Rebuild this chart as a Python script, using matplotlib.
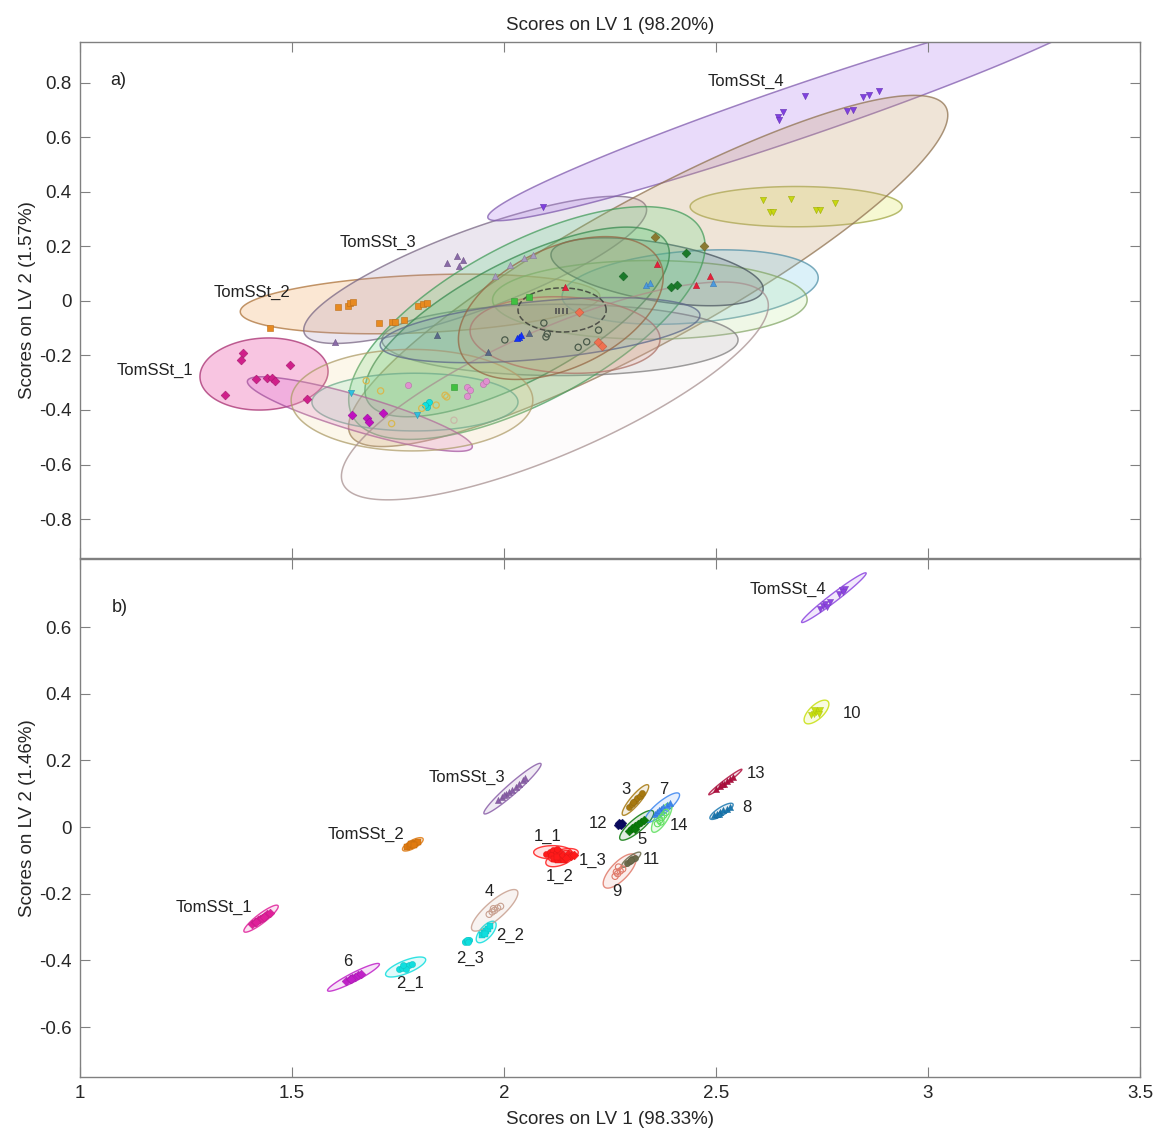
import numpy as np
import matplotlib
matplotlib.use('Agg')
import matplotlib.pyplot as plt
from matplotlib.patches import Polygon
from matplotlib.colors import to_rgba, to_rgb
from matplotlib.ticker import FixedLocator, FuncFormatter

plt.rcParams['font.family'] = ['Liberation Sans', 'DejaVu Sans']

# ===================== PANEL b (bottom) =====================
b_names = ['TomSSt_1', 'TomSSt_2', 'TomSSt_3', 'TomSSt_4', '1_1', '1_2', '1_3',
           '2_1', '2_2', '2_3', '3', '4', '5', '6', '7', '8', '9', '10', '11', '12', '13', '14']
b_colors = ['#e0209a', '#e07a10', '#8a5fa8', '#8c45e0', '#ff1a1a', '#ff1a1a', '#ff1a1a',
            '#10dede', '#10dede', '#10dede', '#a6780f', '#c8a090', '#0a7a0a', '#c020c8',
            '#3a85f0', '#1a78b0', '#e07a6a', '#c8e010', '#6a6a4a', '#0a0a60', '#b0103f', '#60e060']
b_markers = ['D', 's', '^', 'v', 'o', 's', 'D', 'o', 's', 'o', 'o', 'o', 'D', 'D',
             '^', '^', 'o', 'v', 'o', 'D', '^', 'o']
b_open = ['4', '9', '14']

# ellipse: centre, end of major axis, minor/major ratio
b_ell_cx = [1.427, 1.785, 2.020, 2.778, 2.115, 2.132, 2.140, 1.768, 1.958, 1.914, 2.310, 1.978,
            2.313, 1.645, 2.373, 2.513, 2.273, 2.737, 2.300, 2.274, 2.522, 2.372]
b_ell_cy = [-0.275, -0.052, 0.115, 0.688, -0.076, -0.095, -0.085, -0.420, -0.315, -0.342, 0.081,
            -0.250, 0.005, -0.451, 0.058, 0.047, -0.132, 0.345, -0.098, 0.009, 0.135, 0.028]
b_ell_ex = [1.467, 1.809, 2.087, 2.854, 2.160, 2.165, 2.175, 1.815, 1.979, 1.925, 2.340, 2.031,
            2.352, 1.706, 2.413, 2.540, 2.309, 2.764, 2.322, 2.282, 2.561, 2.393]
b_ell_ey = [-0.236, -0.035, 0.190, 0.762, -0.076, -0.080, -0.075, -0.396, -0.285, -0.338, 0.126,
            -0.191, 0.047, -0.411, 0.100, 0.069, -0.084, 0.377, -0.077, 0.015, 0.173, 0.071]
b_ell_r = [0.22, 0.35, 0.14, 0.10, 0.35, 0.45, 0.40, 0.30, 0.45, 0.60, 0.25, 0.30,
           0.30, 0.15, 0.28, 0.30, 0.40, 0.45, 0.30, 0.70, 0.10, 0.35]

b_pts_TomSSt_1 = ([1.405, 1.412, 1.420, 1.425, 1.430, 1.436, 1.442, 1.448, 1.416, 1.433],
                  [-0.292, -0.285, -0.280, -0.276, -0.272, -0.266, -0.262, -0.258, -0.284, -0.270])
b_pts_TomSSt_2 = ([1.772, 1.778, 1.784, 1.790, 1.796, 1.781, 1.788],
                  [-0.060, -0.056, -0.052, -0.048, -0.044, -0.050, -0.055])
b_pts_TomSSt_3 = ([1.985, 1.995, 2.005, 2.012, 2.020, 2.028, 2.035, 2.045, 2.050, 2.000],
                  [0.080, 0.090, 0.098, 0.105, 0.112, 0.120, 0.130, 0.140, 0.148, 0.095])
b_pts_TomSSt_4 = ([2.745, 2.752, 2.758, 2.762, 2.790, 2.798, 2.805, 2.800, 2.770],
                  [0.655, 0.662, 0.668, 0.660, 0.700, 0.710, 0.715, 0.705, 0.675])
b_pts_1_1 = ([2.100, 2.108, 2.115, 2.122, 2.130, 2.112, 2.125],
             [-0.080, -0.074, -0.070, -0.078, -0.072, -0.085, -0.066])
b_pts_1_2 = ([2.118, 2.128, 2.135, 2.142, 2.125], [-0.095, -0.100, -0.092, -0.098, -0.090])
b_pts_1_3 = ([2.140, 2.150, 2.158, 2.165, 2.146], [-0.085, -0.082, -0.088, -0.083, -0.092])
b_pts_2_1 = ([1.752, 1.760, 1.768, 1.775, 1.782, 1.770, 1.762],
             [-0.425, -0.422, -0.418, -0.415, -0.412, -0.425, -0.415])
b_pts_2_2 = ([1.948, 1.953, 1.958, 1.963, 1.968, 1.955], [-0.325, -0.318, -0.312, -0.305, -0.298, -0.322])
b_pts_2_3 = ([1.908, 1.913, 1.918, 1.912, 1.916], [-0.345, -0.342, -0.340, -0.338, -0.346])
b_pts_3 = ([2.295, 2.302, 2.308, 2.314, 2.320, 2.326, 2.305], [0.060, 0.070, 0.078, 0.086, 0.094, 0.102, 0.075])
b_pts_4 = ([1.965, 1.972, 1.978, 1.985, 1.992, 1.975], [-0.262, -0.255, -0.250, -0.243, -0.238, -0.245])
b_pts_5 = ([2.295, 2.302, 2.310, 2.316, 2.322, 2.330, 2.308], [-0.012, -0.004, 0.002, 0.008, 0.014, 0.020, -0.006])
b_pts_6 = ([1.628, 1.636, 1.642, 1.648, 1.655, 1.662, 1.640], [-0.462, -0.456, -0.452, -0.449, -0.445, -0.440, -0.457])
b_pts_7 = ([2.355, 2.362, 2.370, 2.376, 2.384, 2.392, 2.365], [0.040, 0.046, 0.053, 0.060, 0.066, 0.072, 0.050])
b_pts_8 = ([2.495, 2.503, 2.510, 2.517, 2.525, 2.532, 2.507], [0.035, 0.040, 0.045, 0.050, 0.055, 0.060, 0.038])
b_pts_9 = ([2.262, 2.268, 2.274, 2.280, 2.270, 2.265], [-0.148, -0.140, -0.132, -0.126, -0.120, -0.135])
b_pts_10 = ([2.725, 2.730, 2.735, 2.740, 2.745, 2.732, 2.742], [0.335, 0.340, 0.345, 0.348, 0.352, 0.350, 0.340])
b_pts_11 = ([2.290, 2.296, 2.302, 2.308, 2.300], [-0.108, -0.102, -0.097, -0.092, -0.100])
b_pts_12 = ([2.270, 2.274, 2.278, 2.272, 2.277], [0.005, 0.009, 0.012, 0.012, 0.005])
b_pts_13 = ([2.500, 2.510, 2.518, 2.525, 2.532, 2.540, 2.514], [0.115, 0.124, 0.130, 0.137, 0.144, 0.150, 0.128])
b_pts_14 = ([2.362, 2.367, 2.372, 2.377, 2.382, 2.370], [0.010, 0.020, 0.028, 0.036, 0.044, 0.015])

b_points = [b_pts_TomSSt_1, b_pts_TomSSt_2, b_pts_TomSSt_3, b_pts_TomSSt_4, b_pts_1_1, b_pts_1_2,
            b_pts_1_3, b_pts_2_1, b_pts_2_2, b_pts_2_3, b_pts_3, b_pts_4, b_pts_5, b_pts_6, b_pts_7,
            b_pts_8, b_pts_9, b_pts_10, b_pts_11, b_pts_12, b_pts_13, b_pts_14]

b_label_text = ['TomSSt_1', 'TomSSt_2', 'TomSSt_3', 'TomSSt_4', '1_1', '1_2', '1_3', '2_1', '2_2',
                '2_3', '3', '4', '5', '6', '7', '8', '9', '10', '11', '12', '13', '14']
b_label_x = [1.406, 1.764, 2.002, 2.759, 2.104, 2.132, 2.208, 1.778, 2.014, 1.920, 2.288, 1.965,
             2.325, 1.632, 2.377, 2.561, 2.267, 2.800, 2.328, 2.243, 2.572, 2.392]
b_label_y = [-0.240, -0.022, 0.150, 0.712, -0.027, -0.147, -0.099, -0.468, -0.324, -0.393, 0.111,
             -0.195, -0.039, -0.405, 0.111, 0.060, -0.192, 0.342, -0.096, 0.009, 0.162, 0.006]
b_label_ha = ['right', 'right', 'right', 'right', 'center', 'center', 'center', 'center', 'center',
              'center', 'center', 'center', 'center', 'center', 'center', 'left', 'center', 'left',
              'left', 'right', 'left', 'left']

# ===================== PANEL a (top) =====================
a_ell_color = ['#e8409c', '#f0a050', '#a88fb8', '#b27ef0', '#e0e860', '#c8a070', '#70c8e8',
               '#b8e890', '#a8a8a8', '#607080', '#60d880', '#50c070', '#70e0c0', '#e070d8',
               '#f0d890', '#e8c8c8', '#f0a090', '#8090c0', '#d09060', '#404040']
a_ell_cx = [1.434, 1.802, 1.932, 2.696, 2.689, 2.340, 2.439, 2.344, 2.132, 2.361, 2.054, 2.031,
            1.790, 1.660, 1.783, 2.120, 2.144, 2.085, 2.134, 2.137]
a_ell_cy = [-0.268, -0.011, 0.114, 0.695, 0.346, 0.110, 0.051, 0.004, -0.143, 0.107, -0.081, -0.077,
            -0.371, -0.415, -0.364, -0.330, -0.125, -0.107, -0.026, -0.033]
a_ell_ex = [1.585, 2.226, 2.335, 1.962, 2.939, 3.042, 2.741, 2.715, 2.552, 2.611, 2.465, 2.384,
            2.033, 1.925, 2.068, 2.620, 2.368, 2.462, 2.368, 2.241]
a_ell_ey = [-0.254, 0.018, 0.346, 0.305, 0.346, 0.712, 0.088, 0.004, -0.143, 0.040, 0.261, 0.213,
            -0.371, -0.537, -0.364, 0.010, -0.143, -0.051, 0.143, -0.033]
a_ell_r = [0.56, 0.16, 0.22, 0.08, 0.19, 0.21, 0.28, 0.25, 0.20, 0.27, 0.40, 0.35,
           0.28, 0.15, 0.42, 0.27, 0.40, 0.18, 0.55, 0.50]
a_ell_alpha = [0.30, 0.25, 0.22, 0.28, 0.28, 0.28, 0.25, 0.20, 0.20, 0.22, 0.24, 0.24,
               0.22, 0.25, 0.18, 0.06, 0.20, 0.18, 0.16, 0.03]

a_pts_TomSSt_1 = ([1.384, 1.380, 1.495, 1.414, 1.440, 1.454, 1.460, 1.342, 1.535],
                  [-0.190, -0.217, -0.235, -0.288, -0.284, -0.281, -0.293, -0.346, -0.358])
a_pts_TomSSt_2 = ([1.448, 1.609, 1.633, 1.637, 1.645, 1.706, 1.735, 1.743, 1.763, 1.798, 1.810, 1.819],
                  [-0.100, -0.021, -0.018, -0.008, -0.003, -0.082, -0.076, -0.078, -0.070, -0.018, -0.011, -0.006])
a_pts_TomSSt_3 = ([1.866, 1.888, 1.904, 1.895, 1.601], [0.139, 0.165, 0.151, 0.129, -0.150])
a_pts_TomSSt_3b = ([1.979, 2.014, 2.046, 2.068], [0.092, 0.132, 0.157, 0.169])
a_pts_TomSSt_4 = ([2.710, 2.657, 2.647, 2.649, 2.808, 2.824, 2.847, 2.862, 2.885, 2.093],
                  [0.751, 0.692, 0.675, 0.663, 0.696, 0.702, 0.747, 0.754, 0.769, 0.344])
a_pts_10 = ([2.612, 2.676, 2.627, 2.634, 2.736, 2.745, 2.781], [0.369, 0.374, 0.328, 0.328, 0.335, 0.335, 0.359])
a_pts_slate = ([1.841, 1.963, 2.060], [-0.125, -0.186, -0.119])
a_pts_blue = ([2.036, 2.039, 2.030], [-0.131, -0.125, -0.136])
a_pts_red = ([2.360, 2.454, 2.486, 2.144], [0.136, 0.059, 0.092, 0.053])
a_pts_dkgreen = ([2.281, 2.395, 2.407, 2.429], [0.092, 0.053, 0.059, 0.175])
a_pts_olive = ([2.356, 2.472], [0.234, 0.202])
a_pts_skyblue = ([2.336, 2.344, 2.494], [0.059, 0.067, 0.065])
a_pts_cyan = ([1.818, 1.822, 1.814], [-0.389, -0.370, -0.382])
a_pts_cyantri = ([1.794, 1.638], [-0.419, -0.337])
a_pts_magenta = ([1.676, 1.682, 1.714, 1.642], [-0.428, -0.444, -0.411, -0.419])
a_pts_lilac = ([1.774, 1.912, 1.920, 1.913, 1.951, 1.958], [-0.309, -0.317, -0.325, -0.349, -0.303, -0.293])
a_pts_tanopen = ([1.675, 1.709, 1.861, 1.865, 1.840, 1.806, 1.735], [-0.293, -0.330, -0.346, -0.352, -0.382, -0.394, -0.450])
a_pts_green = ([1.882, 2.024, 2.060], [-0.317, 0.001, 0.016])
a_pts_grayopen = ([2.002, 2.102, 2.175, 2.195, 2.223, 2.094, 2.099], [-0.143, -0.121, -0.170, -0.150, -0.107, -0.081, -0.132])
a_pts_salmon = ([2.177, 2.222, 2.230], [-0.040, -0.151, -0.165])
a_pts_black = ([2.122, 2.130, 2.140, 2.148], [-0.037, -0.037, -0.037, -0.037])
a_pts_lightopen = ([1.882], [-0.4375])

a_points = [a_pts_TomSSt_1, a_pts_TomSSt_2, a_pts_TomSSt_3, a_pts_TomSSt_3b, a_pts_TomSSt_4, a_pts_10,
            a_pts_slate, a_pts_blue, a_pts_red, a_pts_dkgreen, a_pts_olive, a_pts_skyblue, a_pts_cyan,
            a_pts_cyantri, a_pts_magenta, a_pts_lilac, a_pts_tanopen, a_pts_green, a_pts_grayopen,
            a_pts_salmon, a_pts_black, a_pts_lightopen]
a_pt_colors = ['#d0208a', '#e88a20', '#8a6aa8', '#a89cc0', '#8040e0', '#c8d810', '#5a6a8a', '#1030ff',
               '#e8203a', '#1a7a2a', '#8a7a30', '#4a9ae0', '#10e0e0', '#30c0e0', '#c010c0', '#e090d0',
               '#d8b850', '#40c040', '#4a5a4a', '#f07050', '#505050', '#c8b8a8']
a_pt_markers = ['D', 's', '^', '^', 'v', 'v', '^', '^', '^', 'D', 'D', '^', 'o', 'v', 'D', 'o',
                'o', 's', 'o', 'D', '|', 'o']
a_pt_open = [False, False, False, False, False, False, False, False, False, False, False, False,
             False, False, False, False, True, False, True, False, False, True]

a_label_text = ['TomSSt_1', 'TomSSt_2', 'TomSSt_3', 'TomSSt_4']
a_label_x = [1.177, 1.406, 1.703, 2.571]
a_label_y = [-0.254, 0.033, 0.213, 0.805]

a_yticks = [-0.8, -0.6, -0.4, -0.2, 0, 0.2, 0.4, 0.6, 0.8]
b_yticks = [-0.6, -0.4, -0.2, 0, 0.2, 0.4, 0.6]
x_ticks = [1, 1.5, 2, 2.5, 3, 3.5]

# ===================== FIGURE =====================
FW, FH = 1161, 1131
fig = plt.figure(figsize=(FW / 100, FH / 100), dpi=100)
L = 80 / FW
W = 1060 / FW
ax_a = fig.add_axes([L, 1 - 558 / FH, W, (558 - 42) / FH])
ax_b = fig.add_axes([L, 1 - 1077 / FH, W, (1077 - 559) / FH])

ax_a.set_xlim(1, 3.5)
ax_a.set_ylim(-0.943, 0.950)
ax_b.set_xlim(1, 3.5)
ax_b.set_ylim(-0.75, 0.804)

fmt = FuncFormatter(lambda v, p: f"{round(v, 2) + 0.0:g}")
for ax, yt in ((ax_a, a_yticks), (ax_b, b_yticks)):
    ax.xaxis.set_major_locator(FixedLocator(x_ticks))
    ax.yaxis.set_major_locator(FixedLocator(yt))
    ax.xaxis.set_major_formatter(fmt)
    ax.yaxis.set_major_formatter(fmt)
    ax.tick_params(direction='in', length=7, width=0.8, color='#808080', top=True, right=True,
                   labelsize=13.5, labelcolor='#262626', pad=6)
    for s in ax.spines.values():
        s.set_color('#808080')
        s.set_linewidth(1.0)
ax_a.tick_params(labelbottom=False)


def ellipse_xy(ax, cx, cy, ex, ey, r, n=240):
    T = ax.transData
    pc = np.array(T.transform((cx, cy)))
    pe = np.array(T.transform((ex, ey)))
    u = pe - pc
    v = np.array([-u[1], u[0]]) * r
    t = np.linspace(0, 2 * np.pi, n)
    pts = pc + np.outer(np.cos(t), u) + np.outer(np.sin(t), v)
    return T.inverted().transform(pts)


def darker(c, f=0.7):
    rgb = np.array(to_rgb(c))
    return tuple(rgb * f)


# ---- panel a ----
for i in range(len(a_ell_cx)):
    xy = ellipse_xy(ax_a, a_ell_cx[i], a_ell_cy[i], a_ell_ex[i], a_ell_ey[i], a_ell_r[i])
    col = a_ell_color[i]
    ec = darker(col, 0.72) + (0.75,)
    ls = '--' if i == len(a_ell_cx) - 1 else '-'
    ax_a.add_patch(Polygon(xy, closed=True, facecolor=to_rgba(col, a_ell_alpha[i]),
                           edgecolor=ec, lw=1.1, ls=ls, zorder=1))

for pts, col, mk, op in zip(a_points, a_pt_colors, a_pt_markers, a_pt_open):
    if op:
        ax_a.scatter(pts[0], pts[1], s=20, marker=mk, facecolors='none', edgecolors=col,
                     linewidths=0.9, zorder=3)
    elif mk == '|':
        ax_a.scatter(pts[0], pts[1], s=18, marker=mk, color=col, linewidths=1.2, zorder=3)
    else:
        ax_a.scatter(pts[0], pts[1], s=20, marker=mk, color=col, edgecolors=darker(col, 0.8),
                     linewidths=0.4, zorder=3)

for t, x, y in zip(a_label_text, a_label_x, a_label_y):
    ax_a.text(x, y, t, ha='center', va='center', fontsize=12, color='#222222', zorder=5)
ax_a.text(1.09, 0.81, 'a)', ha='center', va='center', fontsize=13, color='#222222')

# ---- panel b ----
for i, nm in enumerate(b_names):
    col = b_colors[i]
    xy = ellipse_xy(ax_b, b_ell_cx[i], b_ell_cy[i], b_ell_ex[i], b_ell_ey[i], b_ell_r[i])
    ax_b.add_patch(Polygon(xy, closed=True, facecolor=to_rgba(col, 0.12),
                           edgecolor=to_rgba(col, 0.85), lw=1.0, zorder=1))
    px, py = b_points[i]
    if nm in b_open:
        ax_b.scatter(px, py, s=20, marker=b_markers[i], facecolors='none', edgecolors=col,
                     linewidths=0.8, zorder=3)
    else:
        ax_b.scatter(px, py, s=20, marker=b_markers[i], color=col, edgecolors=darker(col, 0.85),
                     linewidths=0.3, zorder=3)

for t, x, y, ha in zip(b_label_text, b_label_x, b_label_y, b_label_ha):
    ax_b.text(x, y, t, ha=ha, va='center', fontsize=12, color='#222222', zorder=5)
ax_b.text(1.094, 0.66, 'b)', ha='center', va='center', fontsize=13, color='#222222')

# ---- axis titles ----
fig.text(610 / FW, 1 - 25 / FH, 'Scores on LV 1 (98.20%)', ha='center', va='center',
         fontsize=13.5, color='#262626')
fig.text(610 / FW, 1 - 1120 / FH, 'Scores on LV 1 (98.33%)', ha='center', va='center',
         fontsize=13.5, color='#262626')
fig.text(28 / FW, 1 - 300 / FH, 'Scores on LV 2 (1.57%)', ha='center', va='center',
         rotation=90, fontsize=13.5, color='#262626')
fig.text(28 / FW, 1 - 818 / FH, 'Scores on LV 2 (1.46%)', ha='center', va='center',
         rotation=90, fontsize=13.5, color='#262626')

fig.savefig('out.png', dpi=100)
